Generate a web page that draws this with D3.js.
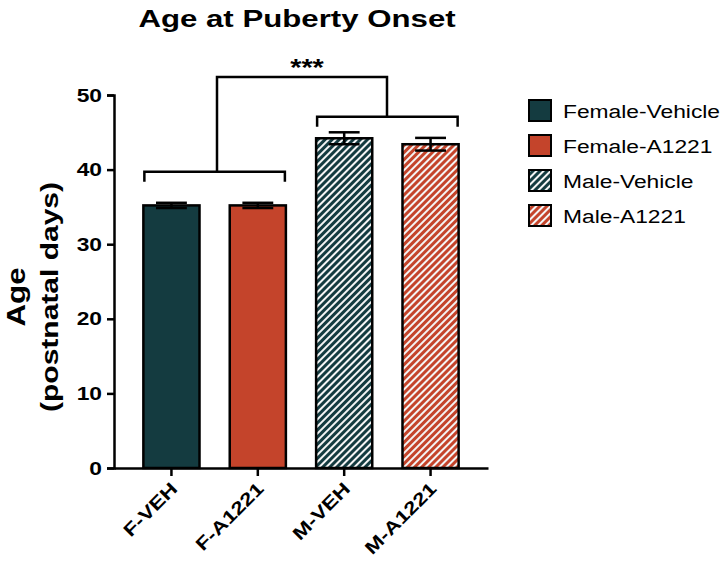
<!DOCTYPE html>
<html lang="en">
<head>
<meta charset="utf-8">
<title>Age at Puberty Onset</title>
<script src="https://d3js.org/d3.v7.min.js"></script>
<style>
  body { margin: 0; background: #fff; }
  text { font-family: "Liberation Sans", Arial, sans-serif; }
</style>
</head>
<body>
<div id="chart"></div>
<script>
// data
const groups = ["F-VEH", "F-A1221", "M-VEH", "M-A1221"];
const means = [35.2, 35.2, 44.2, 43.4];
const sems = [0.35, 0.35, 0.8, 0.85];
const legendLabels = ["Female-Vehicle", "Female-A1221", "Male-Vehicle", "Male-A1221"];
const yTicks = [0, 10, 20, 30, 40, 50];

const teal = "#143b40", red = "#c4442b";
const fills = [teal, red, "url(#hatchTeal)", "url(#hatchRed)"];

const W = 720, H = 564;
const svg = d3.select("#chart").append("svg")
  .attr("width", W).attr("height", H);

// hatch patterns
const defs = svg.append("defs");
function hatch(id, bg) {
  const p = defs.append("pattern")
    .attr("id", id)
    .attr("patternUnits", "userSpaceOnUse")
    .attr("width", 5).attr("height", 5)
    .attr("patternTransform", "rotate(45)");
  p.append("rect").attr("width", 5).attr("height", 5).attr("fill", bg);
  p.append("rect").attr("x", 0).attr("width", 2).attr("height", 5).attr("fill", "#f4f4f4");
}
hatch("hatchTeal", teal);
hatch("hatchRed", red);

const x = d3.scaleBand()
  .domain(groups)
  .range([114, 488])
  .paddingInner(0.35)
  .paddingOuter(0.34);

const y = d3.scaleLinear().domain([0, 50]).range([468, 95]);

// title (the original typeface is wider, so stretch it a bit)
svg.append("text")
  .attr("transform", "translate(297,27) scale(1.3,1)")
  .attr("text-anchor", "middle")
  .style("font-size", "24px").style("font-weight", "bold")
  .text("Age at Puberty Onset");

// bars
svg.selectAll(".bar")
  .data(groups)
  .join("rect")
    .attr("class", "bar")
    .attr("x", d => x(d))
    .attr("y", (d, i) => y(means[i]))
    .attr("width", x.bandwidth())
    .attr("height", (d, i) => y(0) - y(means[i]))
    .attr("fill", (d, i) => fills[i])
    .attr("stroke", "#000")
    .attr("stroke-width", 2.5);

// error bars
const capW = x.bandwidth() * 0.55;
groups.forEach((g, i) => {
  const cx = x(g) + x.bandwidth() / 2;
  const eb = svg.append("g").attr("stroke", "#000").attr("stroke-width", 2.5);
  eb.append("line").attr("x1", cx).attr("x2", cx)
    .attr("y1", y(means[i] + sems[i])).attr("y2", y(means[i] - sems[i]));
  eb.append("line").attr("x1", cx - capW / 2).attr("x2", cx + capW / 2)
    .attr("y1", y(means[i] + sems[i])).attr("y2", y(means[i] + sems[i]));
  eb.append("line").attr("x1", cx - capW / 2).attr("x2", cx + capW / 2)
    .attr("y1", y(means[i] - sems[i])).attr("y2", y(means[i] - sems[i]));
});

// y axis
const yAxis = svg.append("g")
  .attr("transform", "translate(114,0)")
  .call(d3.axisLeft(y).tickValues(yTicks).tickSize(7).tickPadding(3));
yAxis.select(".domain").attr("stroke-width", 2.5);
yAxis.selectAll(".tick line").attr("stroke-width", 2.5);
yAxis.selectAll(".tick text")
  .style("font-size", "19px").style("font-weight", "bold")
  .style("font-family", "'Liberation Sans', Arial, sans-serif")
  .attr("fill", "#000")
  .attr("transform", "scale(1.2,1)");

// x axis
const xAxis = svg.append("g")
  .attr("transform", "translate(0,468)")
  .call(d3.axisBottom(x).tickSize(8).tickSizeOuter(0));
xAxis.select(".domain").attr("stroke-width", 2.5);
xAxis.selectAll(".tick line").attr("stroke-width", 2.5);
xAxis.selectAll(".tick text")
  .style("font-size", "18px").style("font-weight", "bold")
  .style("font-family", "'Liberation Sans', Arial, sans-serif")
  .attr("fill", "#000")
  .attr("text-anchor", "end")
  .attr("dy", null).attr("y", 0)
  .attr("transform", "translate(7,22) rotate(-45) scale(1.25,1)");

// y label
svg.append("text")
  .attr("transform", "translate(25,297) rotate(-90) scale(1.25,1)")
  .attr("text-anchor", "middle")
  .style("font-weight", "bold").style("font-size", "25px")
  .text("Age");
svg.append("text")
  .attr("transform", "translate(58,297) rotate(-90) scale(1.25,1)")
  .attr("text-anchor", "middle")
  .style("font-weight", "bold").style("font-size", "24px")
  .text("(postnatal days)");

// significance brackets
const fL = x("F-VEH") + 1, fR = x("F-A1221") + x.bandwidth() - 1;
const mL = x("M-VEH") + 1, mR = x("M-A1221") + x.bandwidth() - 1;
const fY = y(39.7), mY = y(47.1), topY = y(52.4);
const fMid = 217, mMid = 387;
const br = svg.append("g").attr("fill", "none").attr("stroke", "#000").attr("stroke-width", 2.5);
br.append("path").attr("d", `M${fL},${fY + 10}V${fY}H${fR}V${fY + 10}`);
br.append("path").attr("d", `M${mL},${mY + 10}V${mY}H${mR}V${mY + 10}`);
br.append("path").attr("d", `M${fMid},${fY}V${topY}H${mMid}V${mY}`);
svg.append("text")
  .attr("transform", `translate(${(fMid + mMid) / 2 + 5},${topY - 1}) scale(1.2,1)`)
  .attr("text-anchor", "middle")
  .style("font-size", "24px").style("font-weight", "bold")
  .text("***");

// legend
const lg = svg.append("g").attr("transform", "translate(529,100)");
legendLabels.forEach((lab, i) => {
  const row = lg.append("g").attr("transform", `translate(0,${i * 35})`);
  row.append("rect").attr("width", 22).attr("height", 21)
    .attr("fill", fills[i]).attr("stroke", "#000").attr("stroke-width", 2);
  row.append("text").attr("transform", "translate(34,18) scale(1.2,1)")
    .style("font-size", "19px").text(lab);
});
</script>
</body>
</html>
